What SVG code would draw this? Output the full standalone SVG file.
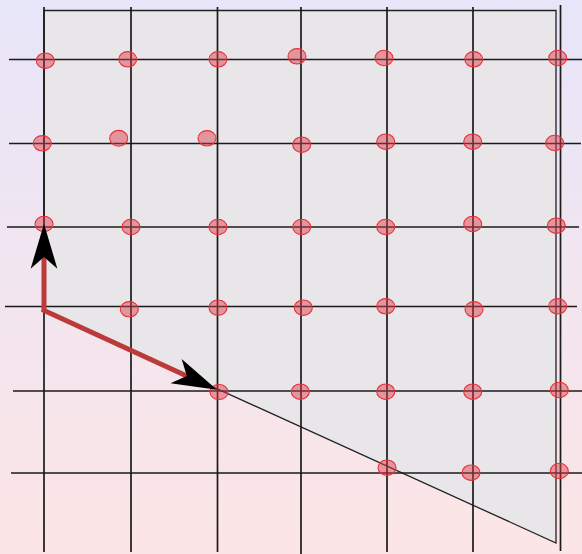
<svg xmlns="http://www.w3.org/2000/svg" width="582" height="554" viewBox="0 0 582 554">
<defs>
<linearGradient id="bg" x1="0" y1="0" x2="0" y2="1">
<stop offset="0" stop-color="#e7e5f9"/>
<stop offset="1" stop-color="#fce5e6"/>
</linearGradient>
<marker id="ah" markerUnits="userSpaceOnUse" markerWidth="50" markerHeight="30" viewBox="-12 -14 46 28" refX="0" refY="0" orient="auto" overflow="visible">
<path d="M31,0 L-11,-12.5 L0,0 L-11,12.5 Z" fill="#000"/>
</marker>
<style>
.g{stroke:#1a1a1a;stroke-width:1.7;fill:none}
.d{fill:#dc3c4a;fill-opacity:0.48;stroke:#e8303a;stroke-width:1.1}
.a{stroke:#bb3b3b;stroke-width:5;fill:none;marker-end:url(#ah)}
</style>
</defs>
<rect width="582" height="554" fill="url(#bg)"/>
<g id="region">
<polygon points="44,10.5 556,10.5 556,543 44,310" fill="#e8e6e8" stroke="#222" stroke-width="1.3"/>
</g>
<g id="grid">
<line class="g" x1="44" y1="7" x2="44" y2="552"/>
<line class="g" x1="131" y1="7" x2="131" y2="552"/>
<line class="g" x1="217.5" y1="7" x2="217.5" y2="552"/>
<line class="g" x1="301" y1="7" x2="301" y2="554"/>
<line class="g" x1="387" y1="7" x2="387" y2="552"/>
<line class="g" x1="473" y1="7" x2="473" y2="552"/>
<line class="g" x1="560.5" y1="5" x2="560.5" y2="551"/>
<line class="g" x1="9" y1="59.5" x2="582" y2="59.5"/>
<line class="g" x1="9" y1="143.5" x2="581" y2="143.5"/>
<line class="g" x1="7" y1="227" x2="579" y2="227"/>
<line class="g" x1="5" y1="306.5" x2="577" y2="306.5"/>
<line class="g" x1="13" y1="391" x2="582" y2="391"/>
<line class="g" x1="11" y1="473" x2="582" y2="473"/>
</g>
<g id="points">
<ellipse class="d" cx="45.3" cy="60.7" rx="9" ry="7.7"/>
<ellipse class="d" cx="127.7" cy="59.3" rx="9" ry="7.7"/>
<ellipse class="d" cx="218" cy="59.3" rx="9" ry="7.7"/>
<ellipse class="d" cx="297" cy="56.3" rx="9" ry="7.7"/>
<ellipse class="d" cx="384" cy="58" rx="9" ry="7.7"/>
<ellipse class="d" cx="473.7" cy="59.3" rx="9" ry="7.7"/>
<ellipse class="d" cx="557.7" cy="58" rx="9" ry="7.7"/>
<ellipse class="d" cx="42.3" cy="143.3" rx="9" ry="7.7"/>
<ellipse class="d" cx="118.7" cy="138.3" rx="9" ry="7.9"/>
<ellipse class="d" cx="207" cy="138.3" rx="9" ry="7.7"/>
<ellipse class="d" cx="301.7" cy="144.7" rx="9" ry="7.7"/>
<ellipse class="d" cx="385.7" cy="141.7" rx="9" ry="7.7"/>
<ellipse class="d" cx="472.7" cy="141.7" rx="9" ry="7.7"/>
<ellipse class="d" cx="554.7" cy="143" rx="9" ry="7.7"/>
<ellipse class="d" cx="44" cy="224" rx="9" ry="7.7"/>
<ellipse class="d" cx="131" cy="227" rx="9" ry="7.7"/>
<ellipse class="d" cx="218" cy="227" rx="9" ry="7.7"/>
<ellipse class="d" cx="301.7" cy="227" rx="9" ry="7.7"/>
<ellipse class="d" cx="385.7" cy="227" rx="9" ry="7.7"/>
<ellipse class="d" cx="472.7" cy="224" rx="9" ry="7.7"/>
<ellipse class="d" cx="556.3" cy="225.7" rx="9" ry="7.7"/>
<ellipse class="d" cx="129.3" cy="309.3" rx="9" ry="7.7"/>
<ellipse class="d" cx="218" cy="307.7" rx="9" ry="7.7"/>
<ellipse class="d" cx="303.3" cy="307.7" rx="9" ry="7.7"/>
<ellipse class="d" cx="385.7" cy="306.3" rx="9" ry="7.7"/>
<ellipse class="d" cx="474" cy="309.3" rx="9" ry="7.7"/>
<ellipse class="d" cx="557.7" cy="306.3" rx="9" ry="7.7"/>
<ellipse class="d" cx="219" cy="392" rx="9" ry="7.5"/>
<ellipse class="d" cx="300.3" cy="391.7" rx="9" ry="7.7"/>
<ellipse class="d" cx="385.7" cy="391.7" rx="9" ry="7.7"/>
<ellipse class="d" cx="472.7" cy="391.7" rx="9" ry="7.7"/>
<ellipse class="d" cx="559.3" cy="390" rx="9" ry="7.7"/>
<ellipse class="d" cx="387" cy="467.7" rx="9" ry="7.7"/>
<ellipse class="d" cx="471" cy="472.7" rx="9" ry="7.7"/>
<ellipse class="d" cx="559.3" cy="471" rx="9" ry="7.7"/>
</g>
<g id="connectors">
<path class="a" d="M44,311 L44,257"/>
<path class="a" d="M42,309.5 L186.8,376"/>
</g>
</svg>
